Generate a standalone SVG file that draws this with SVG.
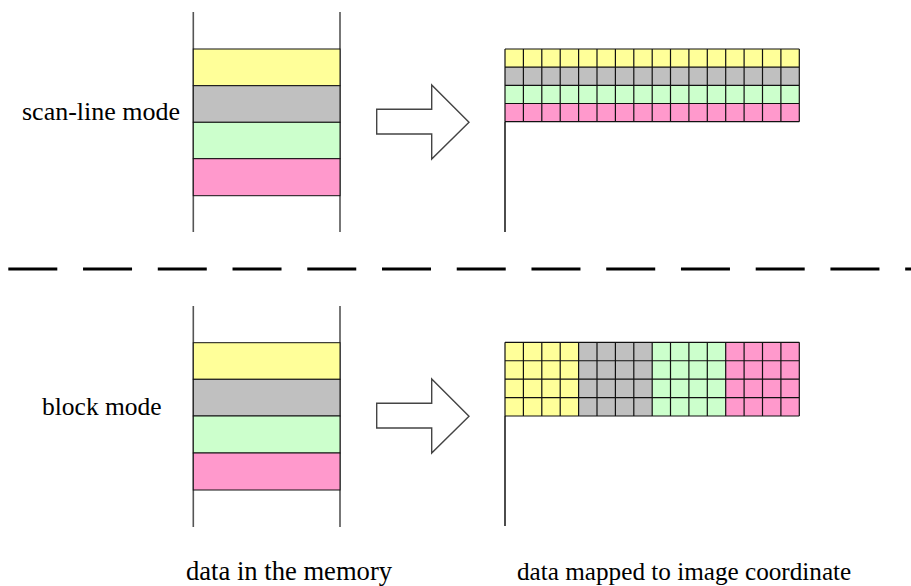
<svg xmlns="http://www.w3.org/2000/svg" width="911" height="586" viewBox="0 0 911 586">
<style>
.t{font-family:'Liberation Serif','Times New Roman',Times,serif;font-size:26px;fill:#000}
.rail{stroke:#555;stroke-width:1.6;fill:none}
.cell{stroke:#111;stroke-width:1}
.y{fill:#FFFF99}.g{fill:#C0C0C0}.gr{fill:#CCFFCC}.p{fill:#FF99CC}
.grid{stroke:#111;stroke-width:1.2;fill:none}
.arrow{fill:#fff;stroke:#444;stroke-width:1.4}
.axis{stroke:#000;stroke-width:1.4}
</style>
<defs>
<path id="arr" d="M376.7,109.3 H431.7 V85 L469,122.3 L431.7,159 V134 H376.7 Z"/>
<path id="vlines" d="M505,0V72.7M523.4,0V72.7M541.8,0V72.7M560.2,0V72.7M578.6,0V72.7M597,0V72.7M615.4,0V72.7M633.8,0V72.7M652.2,0V72.7M670.5,0V72.7M688.9,0V72.7M707.3,0V72.7M725.7,0V72.7M744.1,0V72.7M762.5,0V72.7M780.9,0V72.7M799.3,0V72.7M505,0H799.3M505,18.2H799.3M505,36.4H799.3M505,54.5H799.3M505,72.7H799.3"/>
</defs>
<g id="label-scanline"><text class="t" x="22" y="120">scan-line mode</text></g>
<g id="label-block"><text class="t" x="42" y="415" style="font-size:25.5px">block mode</text></g>
<g id="label-memory"><text class="t" x="186" y="580" style="font-size:26.6px">data in the memory</text></g>
<g id="label-mapped"><text class="t" x="517" y="580" style="font-size:25.2px">data mapped to image coordinate</text></g>
<g id="memory-top">
<line class="rail" x1="193.3" y1="12" x2="193.3" y2="232"/>
<line class="rail" x1="340" y1="12" x2="340" y2="232"/>
<rect class="cell y" x="193.3" y="49" width="146.7" height="36.7"/>
<rect class="cell g" x="193.3" y="85.7" width="146.7" height="36.6"/>
<rect class="cell gr" x="193.3" y="122.3" width="146.7" height="36.4"/>
<rect class="cell p" x="193.3" y="158.7" width="146.7" height="37"/>
</g>
<g id="memory-bottom">
<line class="rail" x1="193.3" y1="306" x2="193.3" y2="527"/>
<line class="rail" x1="340" y1="306" x2="340" y2="527"/>
<rect class="cell y" x="193.3" y="342.7" width="146.7" height="36.6"/>
<rect class="cell g" x="193.3" y="379.3" width="146.7" height="36.7"/>
<rect class="cell gr" x="193.3" y="416" width="146.7" height="37"/>
<rect class="cell p" x="193.3" y="453" width="146.7" height="37"/>
</g>
<g id="arrow-top"><use href="#arr" class="arrow"/></g>
<g id="arrow-bottom"><use href="#arr" class="arrow" transform="translate(0,294)"/></g>
<g id="grid-top">
<rect class="y" x="505" y="49" width="294.3" height="18.2"/>
<rect class="g" x="505" y="67.2" width="294.3" height="18.2"/>
<rect class="gr" x="505" y="85.4" width="294.3" height="18.1"/>
<rect class="p" x="505" y="103.5" width="294.3" height="18.2"/>
<use href="#vlines" class="grid" transform="translate(0,49)"/>
<line class="axis" x1="505" y1="121.7" x2="505" y2="232"/>
</g>
<g id="grid-bottom">
<rect class="y" x="505" y="342.3" width="73.6" height="73.7"/>
<rect class="g" x="578.6" y="342.3" width="73.6" height="73.7"/>
<rect class="gr" x="652.2" y="342.3" width="73.5" height="73.7"/>
<rect class="p" x="725.7" y="342.3" width="73.6" height="73.7"/>
<use href="#vlines" class="grid" transform="translate(0,342.3) scale(1,1.0138)"/>
<line class="axis" x1="505" y1="416" x2="505" y2="526"/>
</g>
<g id="connectors">
<line x1="8.3" y1="269" x2="911" y2="269" stroke="#000" stroke-width="3" stroke-dasharray="49 25.74"/>
</g>
</svg>
